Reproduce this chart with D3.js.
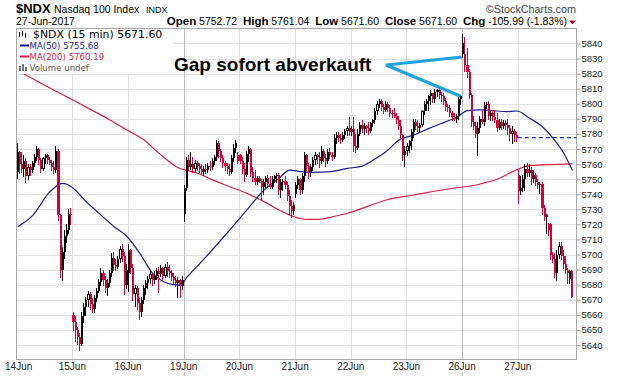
<!DOCTYPE html>
<html>
<head>
<meta charset="utf-8">
<script src="https://cdn.jsdelivr.net/npm/d3@7"></script>
<style>
  body { margin: 0; background: #fff; }
  svg { display: block; font-family: "Liberation Sans", Arial, sans-serif; }
</style>
</head>
<body>
<div id="chart"></div>
<script>
// day labels on the x axis, Mondays get the darker grid line
const dayLabels = ["14Jun", "15Jun", "16Jun", "19Jun", "20Jun", "21Jun", "22Jun", "23Jun", "26Jun", "27Jun"];
const weekStarts = ["19Jun", "26Jun"];
const priceTicks = [5640, 5650, 5660, 5670, 5680, 5690, 5700, 5710, 5720, 5730, 5740,
  5750, 5760, 5770, 5780, 5790, 5800, 5810, 5820, 5830, 5840];

// 15 min bars: [open, high, low, close]
const jun14 = [
  [5755,5774,5751,5768],[5768,5769,5754,5760],[5760,5768,5755,5757],[5757,5766,5752,5762],
  [5762,5764,5748,5752],[5752,5760,5750,5758],[5758,5760,5753,5756],[5756,5762,5755,5761],
  [5761,5767,5759,5765],[5765,5772,5763,5770],[5770,5771,5760,5763],[5763,5764,5755,5757],
  [5757,5765,5756,5764],[5764,5767,5761,5766],[5766,5767,5761,5763],[5763,5765,5760,5761],
  [5761,5763,5756,5758],[5758,5762,5754,5756],[5756,5772,5755,5769],[5769,5770,5723,5726],
  [5726,5727,5685,5690],[5690,5705,5683,5702],[5702,5716,5698,5712],[5712,5720,5708,5716],
  [5716,5730,5714,5727],[5727,5731,5720,5726]
];
const jun15 = [
  [5660,5662,5650,5655],[5655,5659,5643,5650],[5650,5652,5641,5645],[5645,5648,5636.5,5641],
  [5641,5662,5640,5659],[5659,5668,5655,5665],[5665,5672,5660,5670],[5670,5676,5666,5674],
  [5674,5675,5664,5667],[5667,5671,5662,5664],[5664,5673,5662,5671],[5671,5678,5669,5676],
  [5676,5684,5675,5682],[5682,5691,5680,5688],[5688,5690,5680,5683],[5683,5686,5675,5678],
  [5678,5684,5673,5681],[5681,5690,5679,5688],[5688,5701,5686,5698],[5698,5702,5690,5693],
  [5693,5697,5690,5692],[5692,5699,5691,5697],[5697,5706,5695,5704],[5704,5707,5696,5699],
  [5699,5702,5674,5680],[5680,5694,5678,5690]
];
const jun16 = [
  [5688,5707,5676,5703],[5703,5704,5688,5691],[5691,5694,5670,5674],[5674,5680,5666,5678],
  [5678,5679,5664,5668],[5668,5671,5657,5662],[5662,5672,5659,5670],[5670,5680,5668,5678],
  [5678,5683,5674,5681],[5681,5686,5678,5684],[5684,5689,5681,5687],[5687,5688,5680,5683],
  [5683,5689,5681,5686],[5686,5691,5684,5689],[5689,5692,5675,5687],[5687,5693,5686,5691],
  [5691,5692,5684,5686],[5686,5694,5685,5692],[5692,5695,5686,5689],[5689,5693,5685,5688],
  [5688,5690,5683,5685],[5685,5688,5681,5683],[5683,5686,5679,5681],[5681,5685,5672,5683],
  [5683,5684,5672,5679],[5679,5686,5677,5683]
];
const jun19 = [
  [5727,5746,5722,5744],[5744,5765,5743,5763],[5763,5766,5756,5758],[5758,5768,5757,5760],
  [5760,5765,5755,5757],[5757,5763,5755,5761],[5761,5762,5756,5759],[5759,5761,5755,5757],
  [5757,5760,5754,5755],[5755,5759,5753,5757],[5757,5760,5754,5756],[5756,5761,5755,5759],
  [5759,5762,5756,5758],[5758,5764,5757,5762],[5762,5766,5760,5765],[5765,5776,5763,5774],
  [5774,5775,5765,5769],[5769,5770,5762,5764],[5764,5766,5758,5761],[5761,5762,5756,5759],
  [5759,5761,5754,5757],[5757,5760,5753,5755],[5755,5766,5754,5764],[5764,5773,5762,5771],
  [5771,5776,5768,5774],[5762,5768,5761,5766]
];
const jun20 = [
  [5766,5767,5761,5762],[5762,5765,5754,5757],[5757,5761,5749,5753],[5753,5769,5752,5767],
  [5767,5772,5762,5770],[5770,5771,5752,5755],[5755,5758,5749,5751],[5751,5756,5747,5748],
  [5748,5752,5747,5751],[5751,5752,5748,5749],[5749,5750,5737,5745],[5745,5750,5740,5748],
  [5748,5752,5745,5751],[5751,5753,5745,5747],[5747,5752,5744,5745],[5745,5752,5744,5750],
  [5750,5753,5748,5752],[5752,5754,5748,5753],[5753,5754,5740,5743],[5743,5750,5738,5748],
  [5748,5750,5743,5749],[5749,5752,5744,5746],[5746,5748,5736,5739],[5739,5743,5727,5732],
  [5732,5736,5725,5729],[5729,5735,5727,5733]
];
const jun21 = [
  [5740,5748,5738,5746],[5746,5752,5744,5750],[5750,5751,5740,5743],[5743,5754,5741,5752],
  [5752,5768,5749,5766],[5766,5767,5756,5759],[5759,5761,5751,5754],[5754,5760,5752,5758],
  [5758,5765,5756,5763],[5763,5768,5760,5766],[5766,5767,5761,5765],[5765,5768,5758,5762],
  [5762,5772,5761,5769],[5769,5770,5762,5764],[5764,5767,5759,5762],[5762,5770,5761,5768],
  [5768,5771,5764,5766],[5766,5768,5763,5765],[5765,5780,5764,5777],[5777,5781,5774,5779],
  [5779,5781,5775,5777],[5777,5780,5774,5776],[5776,5781,5775,5779],[5779,5783,5777,5782],
  [5782,5785,5779,5784],[5784,5791,5779,5781]
];
const jun22 = [
  [5781,5785,5779,5783],[5783,5791,5769,5772],[5772,5780,5768,5771],[5771,5783,5770,5780],
  [5780,5788,5779,5786],[5786,5789,5781,5783],[5783,5787,5780,5785],[5785,5786,5781,5784],
  [5784,5788,5780,5782],[5782,5788,5781,5787],[5787,5790,5785,5789],[5789,5797,5787,5795],
  [5795,5802,5793,5800],[5800,5803,5798,5802],[5802,5803,5796,5798],[5798,5800,5794,5796],
  [5796,5802,5795,5800],[5800,5801,5795,5797],[5797,5799,5792,5794],[5794,5796,5791,5793],
  [5793,5797,5791,5792],[5792,5794,5787,5789],[5789,5792,5783,5785],[5785,5789,5777,5779],
  [5779,5780,5763,5766],[5766,5772,5759,5769]
];
const jun23 = [
  [5769,5774,5766,5772],[5772,5776,5768,5775],[5775,5783,5770,5781],[5781,5790,5778,5788],
  [5788,5790,5783,5785],[5785,5789,5782,5784],[5784,5787,5782,5786],[5786,5796,5785,5795],
  [5795,5802,5793,5800],[5800,5803,5796,5802],[5802,5806,5796,5805],[5805,5809,5800,5807],
  [5807,5807,5801,5803],[5803,5810,5801,5808],[5808,5810,5805,5809],[5809,5810,5804,5806],
  [5806,5808,5802,5805],[5805,5807,5800,5802],[5802,5804,5796,5798],[5798,5800,5795,5797],
  [5797,5799,5792,5794],[5794,5795,5789,5791],[5791,5794,5789,5790],[5790,5793,5788,5792],
  [5792,5805,5790,5803],[5803,5806,5800,5805]
];
const jun26 = [
  [5840,5846,5831,5833],[5833,5844,5822,5826],[5826,5837,5818,5821],[5821,5823,5804,5806],
  [5806,5807,5785,5788],[5788,5792,5783,5785],[5785,5788,5778,5780],[5780,5788,5766,5784],
  [5784,5792,5781,5790],[5790,5796,5787,5788],[5788,5801,5786,5799],[5799,5801,5797,5800],
  [5800,5802,5790,5792],[5792,5795,5789,5794],[5794,5796,5789,5791],[5791,5795,5788,5789],
  [5789,5794,5782,5784],[5784,5790,5783,5788],[5788,5790,5783,5785],[5785,5789,5784,5787],
  [5787,5789,5783,5786],[5786,5790,5780,5784],[5784,5786,5776,5780],[5780,5785,5774,5782],
  [5782,5783,5775,5779],[5779,5781,5775,5777.59]
];
const jun27 = [
  [5752.72,5756,5734,5742],[5742,5752,5740,5744],[5744,5753,5742,5750],[5750,5760,5743,5757],
  [5757,5761.04,5752,5754],[5754,5760,5752,5756],[5756,5758,5747,5750],[5750,5756,5748,5753],
  [5753,5754,5746,5748],[5748,5750,5744,5746],[5746,5748,5741,5747],[5747,5748,5727,5731],
  [5731,5733,5723,5725],[5725,5727,5714,5726],[5716,5721,5713,5720],[5720,5721,5697,5700],
  [5700,5702,5695,5697],[5697,5701,5685,5688],[5688,5703,5683,5700],[5700,5708,5698,5706],
  [5706,5708,5697,5699],[5699,5703,5691,5694],[5694,5699,5688,5690],[5690,5691,5681,5688],
  [5684,5690,5681,5689],[5689,5690,5671.6,5671.6]
];

// moving averages: [bar index, value]
const ma50 = [
  [0,5718.5],[7,5726],[15,5741.7],[21,5747.2],[25,5745],[32,5735],[38,5727.3],[45,5718.5],
  [51,5712],[57,5700.8],[63,5687.5],[68,5682],[73,5680],[76,5679.5],[79,5685],[85,5694],
  [92,5705],[99,5716.3],[107,5729.6],[115,5742.8],[122,5750.6],[127,5756],[132,5755],
  [138,5754.5],[146,5755],[154,5757.2],[160,5758.3],[166,5762.7],[172,5768.3],[178,5776],
  [185,5779.3],[192,5783.7],[200,5788.2],[205,5791],[210,5795.5],[216,5795.9],[224,5795.2],
  [228,5794.8],[233,5795.2],[239,5790.4],[245,5784.8],[250,5777.1],[255,5767.2],[259,5755.68]
];
const ma200 = [
  [0,5822],[15,5810.5],[29,5800],[43,5789.3],[51,5782.6],[59,5776],[66,5767.1],[74,5758.3],
  [84,5753.9],[91,5749.5],[99,5745],[107,5740.6],[115,5735.1],[122,5729.6],[129,5725.1],
  [135,5723.4],[141,5723.4],[147,5725.1],[154,5727.4],[163,5731.8],[172,5736.2],[185,5739.5],
  [200,5743.3],[216,5746.8],[225,5750.6],[231,5755],[238,5758.7],[247,5759.6],[259,5760.19]
];

const days = [jun14, jun15, jun16, jun19, jun20, jun21, jun22, jun23, jun26, jun27];
const bars = d3.merge(days);
const barsPerDay = 26;
const prevClose = jun26[jun26.length - 1][3];

const width = 620;
const height = 376;
const plot = { left: 16.5, right: 576.5, top: 28.5, bottom: 359.5 };

const red = "#d4003a";
const navy = "#1c1c8f";
const crimson = "#dc1e46";

const x = d3.scaleLinear().domain([0, 261.5]).range([16.7, 576.7]);
const y = d3.scaleLinear().domain([5630.4, 5849.6]).range([359.5, 29]);

const svg = d3.select("#chart")
  .append("svg")
  .attr("width", width)
  .attr("height", height);

// grid
const grid = svg.append("g").attr("shape-rendering", "crispEdges");
grid.selectAll("line.h")
  .data(priceTicks)
  .join("line")
  .attr("class", "h")
  .attr("x1", plot.left)
  .attr("x2", plot.right)
  .attr("y1", (d) => Math.round(y(d)) + 0.5)
  .attr("y2", (d) => Math.round(y(d)) + 0.5)
  .attr("stroke", "#e2e2e2");

grid.selectAll("line.v")
  .data(dayLabels.slice(1))
  .join("line")
  .attr("class", "v")
  .attr("x1", (d, i) => Math.round(x((i + 1) * barsPerDay)) + 0.5)
  .attr("x2", (d, i) => Math.round(x((i + 1) * barsPerDay)) + 0.5)
  .attr("y1", plot.top)
  .attr("y2", plot.bottom)
  .attr("stroke", (d) => (weekStarts.includes(d) ? "#b9b9b9" : "#e0e0e0"));

// y axis on the right
svg.append("g")
  .attr("transform", `translate(${plot.right},0)`)
  .call(d3.axisRight(y).tickValues(priceTicks).tickSize(4).tickPadding(1).tickFormat(d3.format("d")))
  .call((g) => g.select(".domain").remove())
  .call((g) => g.selectAll(".tick line").attr("stroke", "#999"))
  .call((g) => g.selectAll(".tick text")
    .attr("fill", "#222")
    .style("font-family", '"Liberation Sans", Arial, sans-serif')
    .style("font-size", "9.5px"));

// x axis labels at the start of each day
svg.append("g")
  .selectAll("text")
  .data(dayLabels)
  .join("text")
  .attr("x", (d, i) => (i === 0 ? x(0) + 2 : x(i * barsPerDay)))
  .attr("y", 370)
  .attr("text-anchor", "middle")
  .attr("fill", "#222")
  .style("font-size", "10px")
  .text((d) => d);

// small ticks under the Monday lines
svg.append("g")
  .selectAll("line")
  .data(weekStarts)
  .join("line")
  .attr("x1", (d) => Math.round(x(dayLabels.indexOf(d) * barsPerDay)) + 0.5)
  .attr("x2", (d) => Math.round(x(dayLabels.indexOf(d) * barsPerDay)) + 0.5)
  .attr("y1", 372)
  .attr("y2", 376)
  .attr("stroke", "#bbb");

// plot frame
svg.append("rect")
  .attr("x", plot.left)
  .attr("y", plot.top)
  .attr("width", plot.right - plot.left)
  .attr("height", plot.bottom - plot.top)
  .attr("fill", "none")
  .attr("stroke", "#a8a8a8")
  .attr("shape-rendering", "crispEdges");

// moving averages
const maLine = d3.line()
  .x((d) => x(d[0] + 0.5))
  .y((d) => y(d[1]))
  .curve(d3.curveMonotoneX);

svg.append("path")
  .datum(ma200)
  .attr("d", maLine)
  .attr("fill", "none")
  .attr("stroke", crimson)
  .attr("stroke-width", 1.2);

svg.append("path")
  .datum(ma50)
  .attr("d", maLine)
  .attr("fill", "none")
  .attr("stroke", navy)
  .attr("stroke-width", 1.2);

// candles
const candle = svg.append("g")
  .attr("shape-rendering", "crispEdges")
  .selectAll("g")
  .data(bars)
  .join("g")
  .each(function (d, i) {
    const [o, h, l, c] = d;
    const ref = i === 0 ? o : bars[i - 1][3];
    const color = c < ref ? red : "#000";
    const s = Math.round(x(i));
    const w = Math.round(x(i + 1)) - s;
    const wx = s + Math.floor((w - 1) / 2) + 0.5;
    const g = d3.select(this);
    g.append("line")
      .attr("x1", wx).attr("x2", wx)
      .attr("y1", Math.round(y(h))).attr("y2", Math.round(y(l)) + 1)
      .attr("stroke", color);
    const top = Math.round(y(Math.max(o, c)));
    const bh = Math.max(1, Math.round(y(Math.min(o, c))) - top);
    g.append("rect")
      .attr("x", s).attr("y", top)
      .attr("width", w).attr("height", bh)
      .attr("fill", color);
    if (c > o && w >= 3 && bh >= 3) {
      g.append("rect")
        .attr("x", s + 1).attr("y", top + 1)
        .attr("width", w - 2).attr("height", bh - 2)
        .attr("fill", "#fff");
    }
  });

// previous close, dashed across the last day
svg.append("line")
  .attr("x1", x(9 * barsPerDay))
  .attr("x2", plot.right)
  .attr("y1", y(prevClose))
  .attr("y2", y(prevClose))
  .attr("stroke", "#1530f0")
  .attr("stroke-width", 1.3)
  .attr("stroke-dasharray", "4,3");

// annotation
const gapBar = 8 * barsPerDay;
svg.append("path")
  .attr("d", `M${x(gapBar)},${y(jun26[0][2])} L386,65 L${x(gapBar) - 1.5},${y(jun23[25][3])}`)
  .attr("fill", "none")
  .attr("stroke", "#1ea2e0")
  .attr("stroke-width", 3);

svg.append("text")
  .attr("x", 174)
  .attr("y", 71)
  .attr("font-weight", "bold")
  .style("font-size", "19px")
  .attr("fill", "#000")
  .text("Gap sofort abverkauft");

// legend in the corner of the plot
const legend = svg.append("g");
legend.append("rect")
  .attr("x", 17).attr("y", 29)
  .attr("width", 156).attr("height", 45)
  .attr("fill", "#fff");

const lastClose = jun27[jun27.length - 1][3];
const ic = legend.append("g").attr("stroke", "#000").attr("shape-rendering", "crispEdges");
[[19.5, 32, 37], [22.5, 31, 36], [25.5, 33, 38]].forEach(([lx, a, b]) => {
  ic.append("line").attr("x1", lx).attr("x2", lx).attr("y1", a).attr("y2", b);
});
legend.append("text")
  .attr("x", 33).attr("y", 38)
  .style("font-family", '"DejaVu Sans", sans-serif')
  .style("font-size", "10.9px")
  .attr("fill", "#000")
  .text(`$NDX (15 min) ${lastClose.toFixed(2)}`);

const legendRows = [
  { label: `MA(50) ${ma50[ma50.length - 1][1].toFixed(2)}`, color: navy, yy: 49 },
  { label: `MA(200) ${ma200[ma200.length - 1][1].toFixed(2)}`, color: crimson, yy: 60 },
];
legendRows.forEach((r) => {
  legend.append("line")
    .attr("x1", 20).attr("x2", 29)
    .attr("y1", r.yy - 3.5).attr("y2", r.yy - 3.5)
    .attr("stroke", r.color).attr("stroke-width", 2);
  legend.append("text")
    .attr("x", 29.5).attr("y", r.yy)
    .style("font-family", '"DejaVu Sans", sans-serif')
    .style("font-size", "8.6px")
    .attr("fill", r.color)
    .text(r.label);
});
[[19, 66], [22, 64], [25, 67]].forEach(([bx, by]) => {
  legend.append("rect").attr("x", bx).attr("y", by).attr("width", 2).attr("height", 71 - by).attr("fill", "#777");
});
legend.append("text")
  .attr("x", 29.5).attr("y", 71)
  .style("font-family", '"DejaVu Sans", sans-serif')
  .style("font-size", "8.6px")
  .attr("fill", "#555")
  .text("Volume undef");

// header
svg.append("text")
  .attr("x", 16).attr("y", 12.7)
  .attr("font-weight", "bold")
  .style("font-size", "13px")
  .text("$NDX");
svg.append("text")
  .attr("x", 54).attr("y", 12.7)
  .style("font-size", "10.5px")
  .text("Nasdaq 100 Index");
svg.append("text")
  .attr("x", 146).attr("y", 12.7)
  .style("font-size", "9px")
  .text("INDX");
svg.append("text")
  .attr("x", 576).attr("y", 12.5)
  .attr("text-anchor", "end")
  .attr("fill", "#444")
  .style("font-size", "10.8px")
  .text("\u00a9StockCharts.com");

svg.append("text")
  .attr("x", 16).attr("y", 25.3)
  .style("font-size", "10.5px")
  .text("27-Jun-2017");

const dayOpen = jun27[0][0];
const dayHigh = d3.max(jun27, (d) => d[1]);
const dayLow = d3.min(jun27, (d) => d[2]);
const chg = lastClose - prevClose;
const quote = [
  ["Open", dayOpen.toFixed(2)],
  ["High", dayHigh.toFixed(2)],
  ["Low", dayLow.toFixed(2)],
  ["Close", lastClose.toFixed(2)],
  ["Chg", `${chg.toFixed(2)} (${(chg / prevClose * 100).toFixed(2)}%)`],
];
const qt = svg.append("text")
  .attr("x", 567).attr("y", 25.3)
  .attr("text-anchor", "end")
  .style("white-space", "pre");
quote.forEach(([k, v], i) => {
  qt.append("tspan").attr("font-weight", "bold").style("font-size", "11.5px").text(k);
  qt.append("tspan").style("font-size", "10.5px").text(` ${v}${i < quote.length - 1 ? "  " : ""}`);
});
svg.append("path")
  .attr("d", "M569,20.5 L576,20.5 L572.5,24.5 Z")
  .attr("fill", "#a8002a");
</script>
</body>
</html>
